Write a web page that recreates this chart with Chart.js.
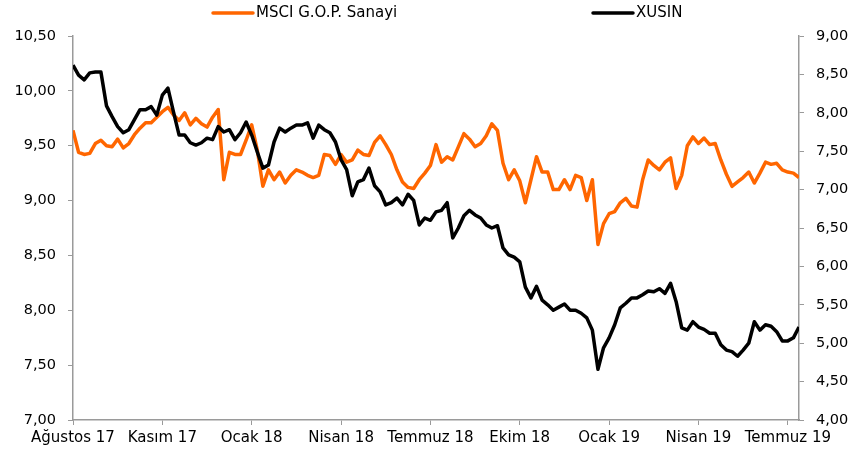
<!DOCTYPE html>
<html>
<head>
<meta charset="utf-8">
<script src="https://cdn.jsdelivr.net/npm/chart.js@4.4.1/dist/chart.umd.min.js"></script>
<style>
    html, body { margin: 0; padding: 0; background: #fff; }
    #wrap { width: 854px; height: 456px; position: relative; }
</style>
</head>
<body>
<div id="wrap"><canvas id="chart"></canvas></div>
<script>
// tick labels for the x axis (one every 16 points)
const monthLabels = ['Ağustos 17', 'Kasım 17', 'Ocak 18', 'Nisan 18', 'Temmuz 18', 'Ekim 18', 'Ocak 19', 'Nisan 19', 'Temmuz 19'];
const seriesNames = ['MSCI G.O.P. Sanayi', 'XUSIN'];

// MSCI G.O.P. Sanayi (left axis)
const msciValues = [
    9.64, 9.44, 9.42, 9.43, 9.52, 9.55, 9.50, 9.49, 9.56, 9.48,
    9.52, 9.60, 9.66, 9.71, 9.71, 9.76, 9.81, 9.85, 9.78, 9.73,
    9.80, 9.69, 9.75, 9.70, 9.67, 9.76, 9.83, 9.19, 9.44, 9.42,
    9.42, 9.55, 9.69, 9.46, 9.13, 9.28, 9.19, 9.26, 9.16, 9.23,
    9.28, 9.26, 9.23, 9.21, 9.23, 9.42, 9.41, 9.33, 9.42, 9.35,
    9.37, 9.46, 9.42, 9.41, 9.53, 9.59, 9.51, 9.42, 9.28, 9.17,
    9.12, 9.11, 9.19, 9.25, 9.32, 9.51, 9.35, 9.40, 9.37, 9.49,
    9.61, 9.56, 9.49, 9.52, 9.59, 9.70, 9.64, 9.34, 9.19, 9.28,
    9.18, 8.98, 9.19, 9.40, 9.26, 9.26, 9.10, 9.10, 9.19, 9.10,
    9.23, 9.21, 9.00, 9.19, 8.60, 8.79, 8.88, 8.90, 8.98, 9.02,
    8.95, 8.94, 9.19, 9.37, 9.32, 9.28, 9.35, 9.39, 9.11, 9.23,
    9.50, 9.58, 9.52, 9.57, 9.51, 9.52, 9.37, 9.24, 9.13, 9.17,
    9.21, 9.26, 9.16, 9.25, 9.35, 9.33, 9.34, 9.28, 9.26, 9.25,
    9.21
];

// XUSIN (right axis)
const xusinValues = [
    8.62, 8.49, 8.43, 8.52, 8.53, 8.53, 8.09, 7.95, 7.82, 7.74,
    7.78, 7.91, 8.04, 8.04, 8.08, 7.97, 8.23, 8.32, 8.01, 7.71,
    7.71, 7.61, 7.58, 7.61, 7.67, 7.65, 7.82, 7.75, 7.78, 7.65,
    7.74, 7.88, 7.71, 7.49, 7.28, 7.32, 7.62, 7.80, 7.75, 7.80,
    7.84, 7.84, 7.87, 7.67, 7.84, 7.78, 7.74, 7.62, 7.39, 7.26,
    6.92, 7.10, 7.13, 7.28, 7.05, 6.97, 6.80, 6.83, 6.89, 6.80,
    6.94, 6.86, 6.54, 6.63, 6.60, 6.71, 6.73, 6.83, 6.37, 6.50,
    6.66, 6.73, 6.67, 6.63, 6.54, 6.50, 6.53, 6.24, 6.15, 6.12,
    6.06, 5.73, 5.59, 5.74, 5.56, 5.50, 5.43, 5.47, 5.51, 5.43,
    5.43, 5.39, 5.33, 5.17, 4.66, 4.94, 5.07, 5.24, 5.46, 5.52,
    5.59, 5.59, 5.63, 5.68, 5.67, 5.71, 5.65, 5.78, 5.54, 5.20,
    5.17, 5.28, 5.21, 5.18, 5.13, 5.13, 4.98, 4.91, 4.89, 4.83,
    4.91, 5.00, 5.28, 5.17, 5.24, 5.22, 5.15, 5.03, 5.03, 5.07,
    5.21
];

const FONT = 'DejaVu Sans';
const AXIS_GREY = '#9a9a9a';

function commaFormat(v) {
    return v.toFixed(2).replace('.', ',');
}

// legend drawn at the positions of the original (two items far apart)
const legendPlugin = {
    id: 'wideLegend',
    afterDraw(chart) {
        const ctx = chart.ctx;
        const starts = [213, 593];
        ctx.save();
        ctx.font = '15px "' + FONT + '"';
        ctx.textBaseline = 'middle';
        chart.data.datasets.forEach((ds, i) => {
            const x = starts[i];
            ctx.strokeStyle = ds.borderColor;
            ctx.lineWidth = 3.5;
            ctx.lineCap = 'round';
            ctx.beginPath();
            ctx.moveTo(x, 13);
            ctx.lineTo(x + 40, 13);
            ctx.stroke();
            ctx.fillStyle = '#000';
            ctx.fillText(ds.label, x + 43, 13);
        });
        ctx.restore();
    }
};

const ctx = document.getElementById('chart');

new Chart(ctx, {
    type: 'line',
    data: {
        labels: msciValues.map((_, i) => i),
        datasets: [
            {
                label: seriesNames[0],
                data: msciValues,
                yAxisID: 'yLeft',
                borderColor: '#ff6600',
                borderWidth: 3.5,
                pointRadius: 0,
                tension: 0,
                borderJoinStyle: 'round',
                order: 2,
            },
            {
                // black line drawn over the orange one
                label: seriesNames[1],
                data: xusinValues,
                yAxisID: 'yRight',
                borderColor: '#000000',
                borderWidth: 3.5,
                pointRadius: 0,
                tension: 0,
                borderJoinStyle: 'round',
                order: 1,
            }
        ]
    },
    options: {
        responsive: true,
        maintainAspectRatio: false,
        animation: false,
        layout: { padding: { top: 36, right: 0, left: 0, bottom: 0 } },
        plugins: {
            legend: { display: false },
            tooltip: { enabled: false },
        },
        scales: {
            x: {
                type: 'linear',
                min: 0,
                max: 130,
                grid: { drawOnChartArea: false, tickLength: 5, color: AXIS_GREY },
                border: { color: AXIS_GREY, width: 1.5 },
                ticks: {
                    stepSize: 16,
                    includeBounds: false,
                    autoSkip: false,
                    maxRotation: 0,
                    padding: 4,
                    color: '#000',
                    font: { family: FONT, size: 15 },
                    callback: (v) => monthLabels[v / 16] || '',
                },
                afterFit(scale) { scale.height = 36; },
            },
            yLeft: {
                type: 'linear',
                position: 'left',
                min: 7,
                max: 10.5,
                grid: { drawOnChartArea: false, tickLength: 5, color: AXIS_GREY },
                border: { color: AXIS_GREY, width: 1.5 },
                ticks: {
                    stepSize: 0.5,
                    padding: 12,
                    color: '#000',
                    font: { family: FONT, size: 14.5 },
                    callback: (v) => commaFormat(v),
                },
                afterFit(scale) { scale.width = 73; },
            },
            yRight: {
                type: 'linear',
                position: 'right',
                min: 4,
                max: 9,
                grid: { drawOnChartArea: false, tickLength: 5, color: AXIS_GREY },
                border: { color: AXIS_GREY, width: 1.5 },
                ticks: {
                    stepSize: 0.5,
                    padding: 12,
                    color: '#000',
                    font: { family: FONT, size: 14.5 },
                    callback: (v) => commaFormat(v),
                },
                afterFit(scale) { scale.width = 55; },
            }
        }
    },
    plugins: [legendPlugin],
});
</script>
</body>
</html>
